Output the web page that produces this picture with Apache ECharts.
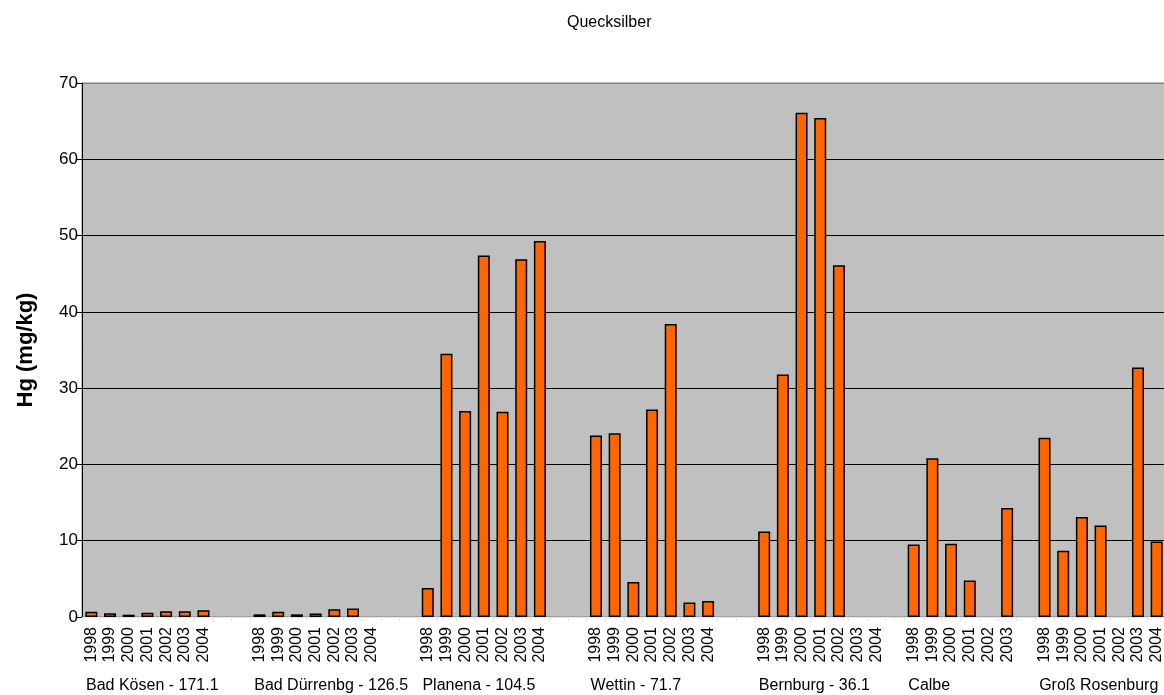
<!DOCTYPE html>
<html>
<head>
<meta charset="utf-8">
<script src="https://cdn.jsdelivr.net/npm/echarts@6/dist/echarts.min.js"></script>
<style>
  html, body { margin: 0; padding: 0; background: #ffffff; overflow: hidden; }
  /* the plot area runs slightly past the right edge of the window */
  #chart { width: 1172px; height: 695px; }
</style>
</head>
<body>
<div id="chart"></div>
<script>
// Mercury content (mg/kg) in sediments per station and sampling year
const stations = ['Bad Kösen - 171.1', 'Bad Dürrenbg - 126.5', 'Planena - 104.5', 'Wettin - 71.7', 'Bernburg - 36.1', 'Calbe', 'Groß Rosenburg'];
const yearLabels = ['1998', '1999', '2000', '2001', '2002', '2003', '2004'];
const calbeYearLabels = ['1998', '1999', '2000', '2001', '2002', '2003'];

const badKoesen      = [0.7, 0.5, 0.3, 0.55, 0.75, 0.75, 0.9];
const badDuerrenberg = [0.35, 0.7, 0.35, 0.45, 1.0, 1.1, null];
const planena        = [3.8, 34.5, 27.0, 47.4, 26.9, 46.9, 49.3];
const wettin         = [23.8, 24.1, 4.6, 27.2, 38.4, 1.9, 2.1];
const bernburg       = [11.2, 31.8, 66.1, 65.4, 46.1, null, null];
const calbe          = [9.5, 20.8, 9.6, 4.8, null, 14.3];
const grossRosenburg = [23.5, 8.7, 13.1, 12.0, null, 32.7, 9.9];

// empty category slots that separate one station from the next
const gapsAfter = [2, 2, 2, 2, 1, 1, 0];

const stationValues = [badKoesen, badDuerrenberg, planena, wettin, bernburg, calbe, grossRosenburg];
const stationYears = [yearLabels, yearLabels, yearLabels, yearLabels, yearLabels, calbeYearLabels, yearLabels];

// flatten into one category axis: years per station, followed by blank slots
const categories = [];
const values = [];
const groupStart = [];
stationValues.forEach((vals, i) => {
  groupStart.push(categories.length);
  stationYears[i].forEach((y, j) => {
    categories.push(y);
    values.push(vals[j] == null ? '-' : vals[j]);
  });
  for (let g = 0; g < gapsAfter[i]; g++) {
    categories.push('');
    values.push('-');
  }
});

// second axis runs on slot boundaries so station names start at each group's left edge
const groupCategories = [];
for (let k = 0; k <= categories.length; k++) {
  const idx = groupStart.indexOf(k);
  groupCategories.push(idx >= 0 ? stations[idx] : '');
}

const font = "'Liberation Sans', Arial, sans-serif";
const chart = echarts.init(document.getElementById('chart'), null, { renderer: 'canvas' });

// horizontal grid lines are black, the top frame line (at 70) is grey
const gridLineColors = ['#000000', '#000000', '#000000', '#000000', '#000000', '#000000', '#000000', '#808080'];

chart.setOption({
  animation: false,
  backgroundColor: '#ffffff',
  title: {
    text: 'Quecksilber',
    left: 562,
    top: 10,
    textStyle: { fontFamily: font, fontSize: 16, fontWeight: 'normal', color: '#000000' }
  },
  grid: {
    left: 82,
    top: 83,
    width: 1084,
    bottom: 78,
    show: true,
    backgroundColor: '#C0C0C0',
    borderColor: '#808080',
    borderWidth: 1
  },
  xAxis: [
    {
      type: 'category',
      data: categories,
      boundaryGap: true,
      axisLine: { show: true, lineStyle: { color: '#E6E6E6', width: 1 } },
      axisTick: { show: true, length: 4, interval: 0, lineStyle: { color: '#E6E6E6' } },
      axisLabel: {
        interval: 0,
        rotate: 90,
        margin: 10,
        fontFamily: font,
        fontSize: 16,
        color: '#000000'
      },
      splitLine: { show: false }
    },
    {
      type: 'category',
      data: groupCategories,
      boundaryGap: false,
      position: 'bottom',
      offset: 53,
      axisLine: { show: false },
      axisTick: { show: false },
      axisLabel: {
        interval: 0,
        align: 'left',
        padding: [0, 0, 0, 4],
        margin: 8,
        fontFamily: font,
        fontSize: 16,
        color: '#000000'
      },
      splitLine: { show: false }
    }
  ],
  yAxis: {
    type: 'value',
    min: 0,
    max: 70,
    interval: 10,
    name: 'Hg (mg/kg)',
    nameLocation: 'middle',
    nameGap: 45,
    nameTextStyle: { fontFamily: font, fontSize: 22, fontWeight: 'bold', color: '#000000' },
    axisLine: { show: true, lineStyle: { color: '#000000', width: 1 } },
    axisTick: { show: true, length: 6, lineStyle: { color: '#000000' } },
    axisLabel: { fontFamily: font, fontSize: 17, color: '#000000', margin: 4 },
    splitLine: { show: true, lineStyle: { color: gridLineColors, width: 1 } }
  },
  series: [
    {
      type: 'bar',
      xAxisIndex: 0,
      data: values,
      barWidth: 12,
      itemStyle: { color: '#FF6600', borderColor: '#000000', borderWidth: 1.5 }
    }
  ]
});
</script>
</body>
</html>
